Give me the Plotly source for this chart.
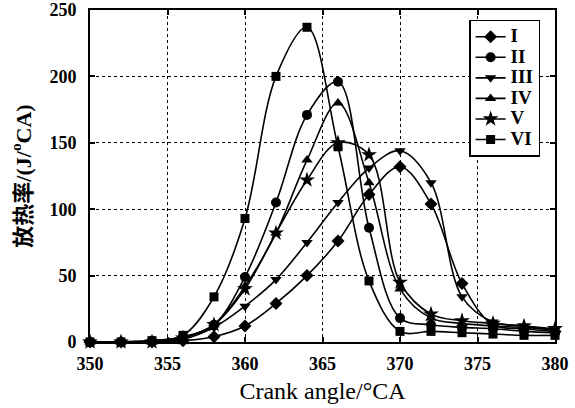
import plotly.graph_objects as go

crank_angle = [350, 352, 354, 356, 358, 360, 362, 364, 366, 368, 370, 372, 374, 376, 378, 380]
series_names = ["I", "II", "III", "IV", "V", "VI"]
hr_I = [0, 0, 0, 1, 4, 12, 29, 50, 76, 111, 132, 104, 44, 13, 10, 8]
hr_II = [0, 0, 1, 4, 13, 49, 105, 171, 196, 86, 18, 13, 11, 10, 8, 7]
hr_III = [0, 0, 0, 2, 11, 27, 47, 75, 105, 131, 144, 120, 34, 15, 12, 9]
hr_IV = [0, 0, 0, 3, 13, 42, 82, 137, 180, 120, 40, 18, 14, 12, 11, 9]
hr_V = [0, 0, 0, 3, 13, 40, 82, 122, 150, 141, 45, 21, 16, 14, 12, 10]
hr_VI = [0, 0, 1, 5, 34, 93, 200, 237, 147, 46, 8, 8, 7, 6, 5, 5]
x_ticks = [350, 355, 360, 365, 370, 375, 380]
y_ticks = [0, 50, 100, 150, 200, 250]

series = [hr_I, hr_II, hr_III, hr_IV, hr_V, hr_VI]
symbols = ["diamond", "circle", "triangle-down", "triangle-up", "star", "square"]
sizes = [10, 10, 10, 10, 12, 9]

fig = go.Figure()
for name, ys, sym, sz in zip(series_names, series, symbols, sizes):
    fig.add_trace(go.Scatter(
        x=crank_angle, y=ys, name="<span style='font-size:19px'>" + name + "</span>",
        mode="lines+markers",
        line=dict(color="black", width=1.6, shape="spline", smoothing=1.0),
        marker=dict(symbol=sym, size=sz, color="black"),
        cliponaxis=False,
    ))

serif = "Liberation Serif, Times New Roman, serif"
fig.update_layout(
    width=575, height=408,
    margin=dict(l=90, r=20, t=10, b=66, autoexpand=False),
    paper_bgcolor="white", plot_bgcolor="white",
    font=dict(family=serif, color="black"),
    showlegend=True,
    legend=dict(
        x=0.968, y=0.97, xanchor="right", yanchor="top",
        bordercolor="black", borderwidth=1.5, bgcolor="white",
        font=dict(family=serif, size=13.5, color="black", weight="bold"),
        tracegroupgap=0, itemwidth=30,
    ),
    xaxis=dict(
        range=[350, 380], tickvals=x_ticks, ticktext=[str(v) for v in x_ticks],
        showline=True, linecolor="black", linewidth=2, mirror="ticks",
        ticks="inside", ticklen=5, tickwidth=1.5, tickcolor="black",
        showgrid=True, gridcolor="black", griddash="dot", gridwidth=1,
        zeroline=False, automargin=False, ticklabeloverflow="allow",
        ticklabelstandoff=4,
        tickfont=dict(family=serif, size=18, color="black", weight="bold"),
        title=dict(text="Crank angle/°CA", font=dict(family=serif, size=24, color="black"), standoff=10),
    ),
    yaxis=dict(
        range=[0, 250], tickvals=y_ticks, ticktext=[str(v) for v in y_ticks],
        showline=True, linecolor="black", linewidth=2, mirror="ticks",
        ticks="inside", ticklen=5, tickwidth=1.5, tickcolor="black",
        showgrid=True, gridcolor="black", griddash="dot", gridwidth=1,
        zeroline=False, automargin=False, ticklabeloverflow="allow",
        ticklabelstandoff=8,
        tickfont=dict(family=serif, size=18, color="black", weight="bold"),
        title=dict(
            text="<b><span style='font-family:Noto Sans CJK SC'>放热率</span>/(J/<sup>o</sup>CA)</b>",
            font=dict(family=serif, size=22, color="black"), standoff=12,
        ),
    ),
)

fig.write_html("out.html", config={"displayModeBar": False},
               post_script="document.body.style.margin='0';")
